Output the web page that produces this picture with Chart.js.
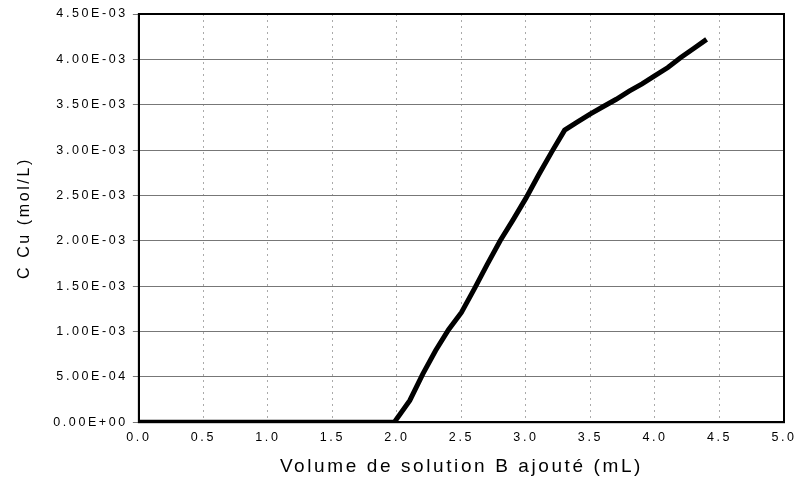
<!DOCTYPE html>
<html lang="fr">
<head>
<meta charset="UTF-8">
<title>C Cu vs volume</title>
<script src="https://cdn.jsdelivr.net/npm/chart.js"></script>
<style>
  html, body { margin: 0; padding: 0; background: #fff; }
  #wrap { width: 799px; height: 481px; }
</style>
</head>
<body>
<div id="wrap"><canvas id="c"></canvas></div>
<script>
// volume ajouté (mL) et concentration en cuivre (mol/L)
const volumes = [0, 0.5, 1.0, 1.5, 1.98, 2.1, 2.2, 2.3, 2.4, 2.5, 2.6, 2.7, 2.8, 2.9, 3.0, 3.1, 3.2, 3.3, 3.4, 3.5, 3.6, 3.7, 3.8, 3.9, 4.0, 4.1, 4.2, 4.3, 4.4];
const concCu = [0, 0, 0, 0, 0, 0.00024, 0.00053, 0.00079, 0.00102, 0.00121, 0.00147, 0.00174, 0.00200, 0.00223, 0.00247, 0.00273, 0.00298, 0.00322, 0.00331, 0.00340, 0.00348, 0.00356, 0.00365, 0.00373, 0.00382, 0.00391, 0.00402, 0.00412, 0.00422];
const xTitle = 'Volume de solution B ajouté (mL)';
const yTitle = 'C Cu (mol/L)';

// format type tableur : 4.50E-03
function sci(v) {
  if (v === 0) return '0.00E+00';
  const [m, e] = v.toExponential(2).split('e');
  const n = parseInt(e, 10);
  const s = n < 0 ? '-' : '+';
  return m + 'E' + s + String(Math.abs(n)).padStart(2, '0');
}

// texte un peu espacé comme sur l'original
const spacing = {
  id: 'spacing',
  beforeLayout(chart) { chart.ctx.letterSpacing = '2.6px'; },
  beforeDraw(chart) { chart.ctx.letterSpacing = '2.6px'; }
};

// cadre noir autour de la zone de tracé
const frame = {
  id: 'frame',
  afterDatasetsDraw(chart) {
    const a = chart.chartArea, ctx = chart.ctx;
    ctx.save();
    ctx.strokeStyle = '#000';
    ctx.lineWidth = 2;
    ctx.strokeRect(a.left, a.top, a.right - a.left, a.bottom - a.top);
    ctx.restore();
  }
};

const font = 'Liberation Sans, Arial, sans-serif';

new Chart(document.getElementById('c'), {
  type: 'line',
  data: {
    datasets: [{
      data: volumes.map((x, i) => ({ x: x, y: concCu[i] })),
      borderColor: '#000',
      borderWidth: 5,
      pointRadius: 0,
      tension: 0,
      fill: false
    }]
  },
  options: {
    responsive: true,
    maintainAspectRatio: false,
    animation: false,
    layout: { padding: { left: 11, right: 0, top: 14, bottom: 3 } },
    plugins: { legend: { display: false }, tooltip: { enabled: false } },
    scales: {
      x: {
        type: 'linear',
        min: 0, max: 5,
        afterFit(s) { s.paddingRight = 15; },
        ticks: { stepSize: 0.5, color: '#000', font: { family: font, size: 12.5 }, callback: v => v.toFixed(1), padding: 8 },
        grid: { color: '#aaa', lineWidth: 1, drawTicks: false, tickLength: 0 },
        border: { display: true, color: '#000', width: 2, dash: [2, 4] },
        title: { display: true, text: xTitle, color: '#000', font: { family: font, size: 19 }, padding: { top: 2, bottom: 0 } }
      },
      y: {
        min: 0, max: 0.0045,
        ticks: { stepSize: 0.0005, color: '#000', font: { family: font, size: 12.5 }, callback: v => sci(v), padding: 5 },
        grid: { color: '#777', lineWidth: 1, tickLength: 6 },
        border: { display: true, color: '#000', width: 2 },
        title: { display: true, text: yTitle, color: '#000', font: { family: font, size: 16 }, padding: { bottom: 14 } }
      }
    }
  },
  plugins: [spacing, frame]
});
</script>
</body>
</html>
